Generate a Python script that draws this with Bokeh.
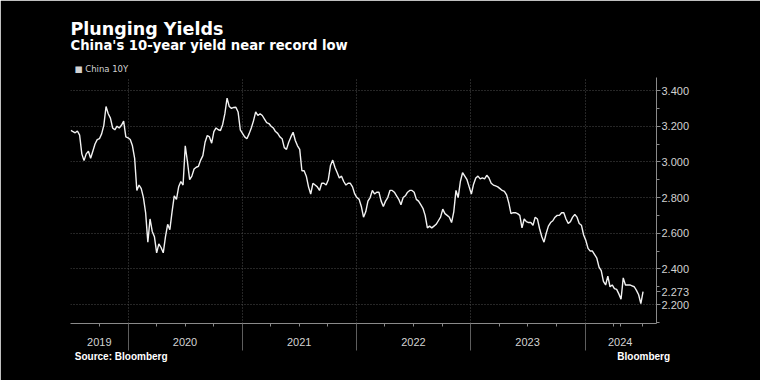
import pandas as pd
from bokeh.plotting import figure
from bokeh.models import (FixedTicker, NumeralTickFormatter, Range1d, Title, DatetimeAxis)
from bokeh.embed import file_html
from bokeh.resources import INLINE

# ---------------- data ----------------
start_date = "2019-07-02"
end_date = "2024-07-04"
yields = [
    3.176, 3.17, 3.163, 3.173, 3.15, 3.045, 3.007, 3.045, 3.06, 3.02,
    3.06, 3.10, 3.125, 3.13, 3.157, 3.205, 3.31, 3.27, 3.245, 3.19,
    3.18, 3.20, 3.19, 3.205, 3.228, 3.14, 3.135, 3.125, 3.09, 3.02,
    2.84, 2.87, 2.85, 2.80, 2.714, 2.55, 2.68, 2.61, 2.58, 2.49,
    2.54, 2.52, 2.49, 2.58, 2.65, 2.62, 2.72, 2.81, 2.79, 2.86,
    2.89, 2.87, 3.09, 3.00, 2.90, 2.92, 2.96, 2.97, 2.975, 3.01,
    3.035, 3.11, 3.148, 3.14, 3.105, 3.17, 3.19, 3.18, 3.176, 3.21,
    3.27, 3.357, 3.31, 3.30, 3.305, 3.306, 3.28, 3.18, 3.16, 3.14,
    3.13, 3.157, 3.19, 3.23, 3.28, 3.26, 3.27, 3.26, 3.24, 3.22,
    3.215, 3.20, 3.19, 3.17, 3.16, 3.14, 3.13, 3.08, 3.07, 3.11,
    3.14, 3.166, 3.12, 3.09, 3.07, 2.95, 2.95, 2.92, 2.86, 2.82,
    2.88, 2.87, 2.86, 2.84, 2.88, 2.88, 2.87, 2.90, 2.98, 3.01,
    2.97, 2.94, 2.91, 2.92, 2.89, 2.87, 2.88, 2.88, 2.86, 2.82,
    2.80, 2.79, 2.75, 2.69, 2.72, 2.78, 2.80, 2.84, 2.82, 2.83,
    2.83, 2.78, 2.75, 2.78, 2.80, 2.84, 2.84, 2.83, 2.81, 2.79,
    2.76, 2.80, 2.81, 2.83, 2.84, 2.84, 2.83, 2.79, 2.78, 2.76,
    2.74, 2.70, 2.63, 2.64, 2.63, 2.64, 2.65, 2.67, 2.69, 2.735,
    2.71, 2.70, 2.69, 2.66, 2.72, 2.84, 2.80, 2.89, 2.94, 2.92,
    2.90, 2.86, 2.82, 2.875, 2.91, 2.92, 2.905, 2.91, 2.905, 2.925,
    2.91, 2.88, 2.87, 2.865, 2.86, 2.85, 2.84, 2.835, 2.815, 2.77,
    2.71, 2.715, 2.715, 2.71, 2.70, 2.63, 2.68, 2.665, 2.66, 2.66,
    2.645, 2.69, 2.68, 2.625, 2.58, 2.55, 2.60, 2.64, 2.66, 2.67,
    2.69, 2.70, 2.70, 2.715, 2.715, 2.68, 2.655, 2.665, 2.69, 2.705,
    2.69, 2.655, 2.645, 2.59, 2.56, 2.515, 2.50, 2.50, 2.48, 2.46,
    2.41, 2.39, 2.33, 2.31, 2.36, 2.30, 2.31, 2.29, 2.285, 2.26,
    2.23, 2.35, 2.31, 2.31, 2.31, 2.305, 2.30, 2.28, 2.255, 2.205,
    2.273,
]
y_ticks = [2.2, 2.4, 2.6, 2.8, 3.0, 3.2, 3.4]
y_minor = [2.1, 2.2, 2.3, 2.4, 2.5, 2.6, 2.7, 2.8, 2.9, 3.0, 3.1, 3.2, 3.3, 3.4]
year_bounds = ["2020-01-01", "2021-01-01", "2022-01-01", "2023-01-01", "2024-01-01"]
quarter_ticks = [
    "2019-10-01", "2020-01-01", "2020-04-01", "2020-07-01", "2020-10-01",
    "2021-01-01", "2021-04-01", "2021-07-01", "2021-10-01",
    "2022-01-01", "2022-04-01", "2022-07-01", "2022-10-01",
    "2023-01-01", "2023-04-01", "2023-07-01", "2023-10-01",
    "2024-01-01", "2024-04-01", "2024-07-01",
]
year_label_pos = ["2019-10-01", "2020-07-01", "2021-07-01", "2022-07-01", "2023-07-01", "2024-04-22"]
year_labels = ["2019", "2020", "2021", "2022", "2023", "2024"]
x_start, x_end = "2019-07-01", "2024-08-16"
y_start, y_end = 2.094, 3.473

title = "Plunging Yields"
subtitle = "China's 10-year yield near record low"
series_name = "China 10Y"
source = "Source: Bloomberg"
brand = "Bloomberg"
footer_pos = ["2019-12-10", "2024-07-06"]


def ms(d):
    return float(pd.Timestamp(d).value // 10**6)


dates = pd.date_range(start_date, end_date, periods=len(yields))

GRID = "#4d4d4d"
AXIS = "#8a8a8a"
TXT = "#d2d2d2"

p = figure(
    width=760, height=380, title=None,
    x_axis_type="datetime", y_axis_location="right",
    x_range=Range1d(ms(x_start), ms(x_end)),
    y_range=Range1d(y_start, y_end),
    output_backend="svg", toolbar_location=None,
    min_border_left=70, min_border_right=104, min_border_top=77, min_border_bottom=57,
    background_fill_color="black", border_fill_color="black",
    outline_line_color="black", outline_line_width=2,
)

# grids
p.ygrid.ticker = FixedTicker(ticks=y_ticks)
p.xgrid.ticker = FixedTicker(ticks=[ms(d) for d in year_bounds])
for g in (p.xgrid[0], p.ygrid[0]):
    g.grid_line_color = GRID
    g.grid_line_dash = "1 2"
    g.grid_line_width = 1

# series
p.line(dates, yields, line_color="#f2f2f2", line_width=1.4)

# right y axis (with the last value as an extra labelled tick)
last = yields[-1]
ya = p.yaxis[0]
ya.ticker = FixedTicker(ticks=y_ticks + [last], minor_ticks=y_minor)
ya.formatter = NumeralTickFormatter(format="0.000")
ya.major_label_overrides = {last: f"{last:.3f}"}
ya.axis_line_color = AXIS
ya.major_tick_line_color = AXIS
ya.minor_tick_line_color = AXIS
ya.major_tick_out = 4
ya.major_tick_in = 0
ya.minor_tick_out = 3
ya.minor_tick_in = 0
ya.major_label_standoff = 1
ya.major_label_text_color = TXT
ya.major_label_text_font = "Liberation Sans"
ya.major_label_text_font_size = "11px"

# bottom x axis
xa = p.xaxis[0]
major = [ms(d) for d in quarter_ticks] + [ms(year_label_pos[-1])]
xa.ticker = FixedTicker(ticks=major, minor_ticks=[ms(d) for d in year_bounds])
overrides = {m: "" for m in major}
for d, lab in zip(year_label_pos, year_labels):
    overrides[ms(d)] = lab
xa.major_label_overrides = overrides
xa.axis_line_color = AXIS
xa.major_tick_line_color = AXIS
xa.major_tick_out = 3
xa.major_tick_in = 0
xa.minor_tick_line_color = "#5e5e5e"
xa.minor_tick_out = 27
xa.minor_tick_in = 0
xa.major_label_standoff = -13
xa.major_label_text_color = TXT
xa.major_label_text_font = "Liberation Sans"
xa.major_label_text_font_size = "11px"

# footer row (source and brand) as labels of an unlined second axis
fpos = [ms(d) for d in footer_pos]
foot = DatetimeAxis(ticker=FixedTicker(ticks=fpos),
                    major_label_overrides={fpos[0]: source, fpos[1]: brand},
                    axis_line_color=None, major_tick_line_color=None, minor_tick_line_color=None,
                    major_tick_out=0, major_tick_in=0, major_label_standoff=2,
                    major_label_text_color="white", major_label_text_font="Liberation Sans",
                    major_label_text_font_style="bold", major_label_text_font_size="10px")
p.add_layout(foot, "below")

# legend row, subtitle, title (stacked upward from the frame)
p.add_layout(Title(text="\u25a0 " + series_name, align="left", offset=4, standoff=8,
                   text_font="DejaVu Sans", text_font_style="normal",
                   text_font_size="8.5px", text_color=TXT), "above")
p.add_layout(Title(text=subtitle, align="left", offset=0, standoff=10,
                   text_font="DejaVu Sans", text_font_style="bold",
                   text_font_size="13.2px", text_color="white"), "above")
p.add_layout(Title(text=title, align="left", offset=0, standoff=-17,
                   text_font="DejaVu Sans", text_font_style="bold",
                   text_font_size="17.5px", text_color="white"), "above")

open("out.html", "w").write(file_html(p, INLINE))
